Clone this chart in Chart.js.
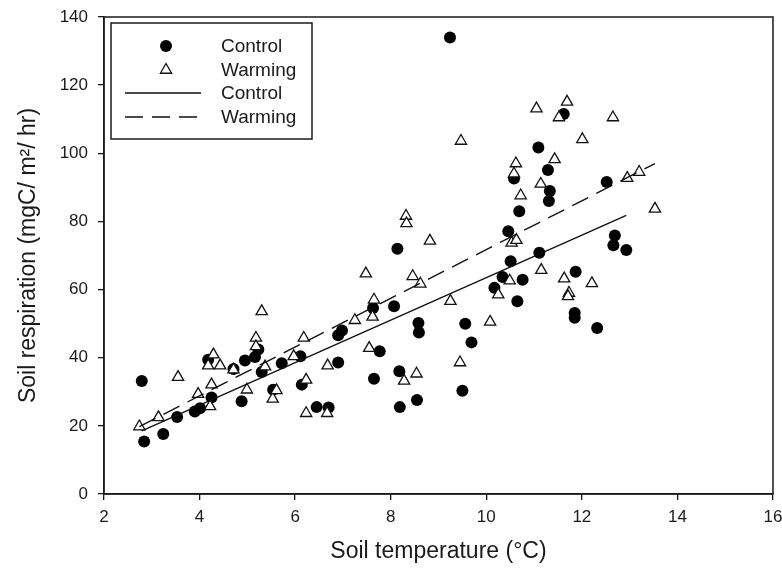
<!DOCTYPE html>
<html>
<head>
<meta charset="utf-8">
<script src="https://cdn.jsdelivr.net/npm/chart.js@4"></script>
<style>
  html, body { margin: 0; padding: 0; background: #fff; }
  #wrap { width: 782px; height: 576px; }
</style>
</head>
<body>
<div id="wrap"><canvas id="scatterChart" width="782" height="576"></canvas></div>
<script>
// 축 눈금
var xTicks = [2, 4, 6, 8, 10, 12, 14, 16];
var yTicks = [0, 20, 40, 60, 80, 100, 120, 140];

// Control (filled circles)
var controlX = [2.79, 2.84, 3.24, 3.53, 3.90, 4.01, 4.25, 4.18, 4.71, 4.88,
                4.95, 5.16, 5.23, 5.30, 5.54, 5.72, 6.11, 6.14, 6.45, 6.70,
                6.90, 6.90, 6.98, 7.63, 8.07, 8.14, 7.77, 7.65, 8.18, 8.19,
                8.55, 8.58, 8.59, 9.24, 9.50, 9.56, 9.69, 10.17, 10.34, 10.46,
                10.51, 10.58, 10.65, 10.69, 10.76, 11.09, 11.11, 11.29, 11.33, 11.31,
                11.62, 11.85, 11.85, 11.87, 12.32, 12.52, 12.69, 12.66, 12.93];
var controlY = [33.2, 15.4, 17.6, 22.6, 24.2, 25.2, 28.3, 39.4, 36.7, 27.2,
                39.2, 40.2, 42.4, 35.8, 30.6, 38.4, 40.4, 32.1, 25.5, 25.4,
                38.6, 46.6, 48.0, 54.6, 55.1, 72.0, 41.9, 33.8, 36.0, 25.5,
                27.6, 50.2, 47.4, 134.0, 30.3, 50.0, 44.5, 60.5, 63.7, 77.1,
                68.3, 92.6, 56.6, 83.0, 62.9, 101.7, 70.8, 95.1, 88.9, 86.0,
                111.5, 53.1, 51.7, 65.2, 48.7, 91.6, 75.9, 73.0, 71.6];

// Warming (open triangles)
var warmingX = [2.74, 3.14, 3.55, 3.97, 4.29, 4.18, 4.43, 4.25, 4.22, 4.71,
                4.99, 5.30, 5.18, 5.18, 5.37, 5.53, 5.61, 5.97, 6.18, 6.23,
                6.23, 6.68, 6.67, 7.25, 7.48, 7.55, 7.62, 7.65, 8.28, 8.32,
                8.33, 8.46, 8.54, 8.62, 8.82, 9.25, 9.45, 9.47, 10.08, 10.25,
                10.49, 10.53, 10.63, 10.62, 10.58, 10.72, 11.05, 11.14, 11.15, 11.43,
                11.52, 11.63, 11.69, 11.73, 11.71, 12.01, 12.21, 12.65, 12.95, 13.20,
                13.53];
var warmingY = [19.8, 22.5, 34.3, 29.3, 40.9, 37.7, 37.7, 32.1, 25.7, 36.5,
                30.6, 53.6, 45.8, 43.3, 37.4, 27.9, 30.4, 40.4, 45.8, 33.5,
                23.7, 37.7, 23.7, 51.0, 64.7, 42.8, 52.0, 57.0, 33.2, 81.6,
                79.4, 63.9, 35.3, 61.7, 74.3, 56.6, 38.6, 103.6, 50.5, 58.5,
                62.6, 73.7, 74.5, 97.0, 94.0, 87.6, 113.1, 91.0, 65.7, 98.2,
                110.5, 63.2, 115.1, 59.0, 58.0, 104.1, 61.8, 110.5, 92.7, 94.5,
                83.7];

// 회귀선 양 끝점
var controlFitX = [2.79, 12.93];
var controlFitY = [18.5, 81.8];
var warmingFitX = [2.74, 13.53];
var warmingFitY = [19.8, 97.0];

function toPoints(xs, ys) {
  return xs.map(function(x, i) { return { x: x, y: ys[i] }; });
}

var FONT = "'Liberation Sans', Arial, Helvetica, sans-serif";
var INK = '#1a1a1a';

// 플롯 테두리
var frameBox = {
  id: 'frameBox',
  afterDatasetsDraw: function(chart) {
    var a = chart.chartArea, ctx = chart.ctx;
    ctx.save();
    ctx.strokeStyle = INK;
    ctx.lineWidth = 1.5;
    ctx.strokeRect(a.left, a.top, a.right - a.left, a.bottom - a.top);
    ctx.restore();
  }
};

// 범례 (플롯 안쪽 왼쪽 위)
var insetLegend = {
  id: 'insetLegend',
  afterDraw: function(chart) {
    var ctx = chart.ctx;
    var ds = chart.data.datasets;
    var bx = 111, by = 23, bw = 201, bh = 116;
    ctx.save();
    ctx.fillStyle = '#fff';
    ctx.fillRect(bx, by, bw, bh);
    ctx.strokeStyle = INK;
    ctx.lineWidth = 1.5;
    ctx.strokeRect(bx, by, bw, bh);

    var rows = [46, 70, 93, 117];
    ctx.font = '19px ' + FONT;
    ctx.textBaseline = 'middle';
    ctx.textAlign = 'left';
    ds.forEach(function(d, i) {
      var y = rows[i];
      if (d.showLine) {
        ctx.beginPath();
        ctx.strokeStyle = d.borderColor;
        ctx.lineWidth = d.borderWidth;
        ctx.setLineDash(d.borderDash || []);
        ctx.moveTo(125, y);
        ctx.lineTo(201, y);
        ctx.stroke();
        ctx.setLineDash([]);
      } else {
        ctx.fillStyle = d.pointBackgroundColor;
        ctx.strokeStyle = d.pointBorderColor;
        ctx.lineWidth = d.pointBorderWidth;
        Chart.helpers.drawPoint(ctx, {
          pointStyle: d.pointStyle,
          radius: d.pointRadius,
          borderWidth: d.pointBorderWidth
        }, 166, y);
      }
      ctx.fillStyle = INK;
      ctx.fillText(d.label, 221, y + 1);
    });
    ctx.restore();
  }
};

var ctx = document.getElementById('scatterChart').getContext('2d');
var chart = new Chart(ctx, {
  type: 'scatter',
  data: {
    datasets: [{
      label: 'Control',
      data: toPoints(controlX, controlY),
      pointStyle: 'circle',
      pointRadius: 6,
      pointBackgroundColor: '#000',
      pointBorderColor: '#000',
      pointBorderWidth: 0,
      order: 3
    }, {
      label: 'Warming',
      data: toPoints(warmingX, warmingY),
      pointStyle: 'triangle',
      pointRadius: 6.5,
      pointBackgroundColor: '#fff',
      pointBorderColor: '#111',
      pointBorderWidth: 1.3,
      order: 2
    }, {
      label: 'Control',
      data: toPoints(controlFitX, controlFitY),
      showLine: true,
      borderColor: '#111',
      borderWidth: 1.4,
      pointRadius: 0,
      order: 1
    }, {
      label: 'Warming',
      data: toPoints(warmingFitX, warmingFitY),
      showLine: true,
      borderColor: '#111',
      borderWidth: 1.4,
      borderDash: [18, 9],
      pointRadius: 0,
      order: 0
    }]
  },
  options: {
    responsive: false,
    animation: false,
    devicePixelRatio: 1,
    layout: { padding: { top: 17, right: 9, left: 0, bottom: 0 } },
    plugins: {
      legend: { display: false },
      tooltip: { enabled: false }
    },
    scales: {
      x: {
        type: 'linear',
        min: xTicks[0],
        max: xTicks[xTicks.length - 1],
        afterBuildTicks: function(scale) {
          scale.ticks = xTicks.map(function(v) { return { value: v }; });
        },
        afterFit: function(scale) {
          scale.height = 82;
          scale.paddingLeft = 0;
          scale.paddingRight = 0;
        },
        grid: { drawOnChartArea: false, drawTicks: true, tickLength: 6, color: INK, lineWidth: 1.3 },
        border: { display: true, color: INK, width: 1.5 },
        ticks: { color: INK, padding: 7, font: { family: FONT, size: 17 }, maxRotation: 0 },
        title: {
          display: true,
          text: 'Soil temperature (°C)',
          color: INK,
          font: { family: FONT, size: 23 },
          padding: { top: 0, bottom: 11 }
        }
      },
      y: {
        type: 'linear',
        min: yTicks[0],
        max: yTicks[yTicks.length - 1],
        afterBuildTicks: function(scale) {
          scale.ticks = yTicks.map(function(v) { return { value: v }; });
        },
        afterFit: function(scale) {
          scale.width = 104;
          scale.paddingTop = 0;
          scale.paddingBottom = 0;
        },
        grid: { drawOnChartArea: false, drawTicks: true, tickLength: 6, color: INK, lineWidth: 1.3 },
        border: { display: true, color: INK, width: 1.5 },
        ticks: { color: INK, padding: 10, font: { family: FONT, size: 17 } },
        title: {
          display: true,
          text: 'Soil respiration (mgC/ m²/ hr)',
          color: INK,
          font: { family: FONT, size: 23 },
          padding: { top: 15, bottom: 0 }
        }
      }
    }
  },
  plugins: [frameBox, insetLegend]
});
</script>
</body>
</html>
